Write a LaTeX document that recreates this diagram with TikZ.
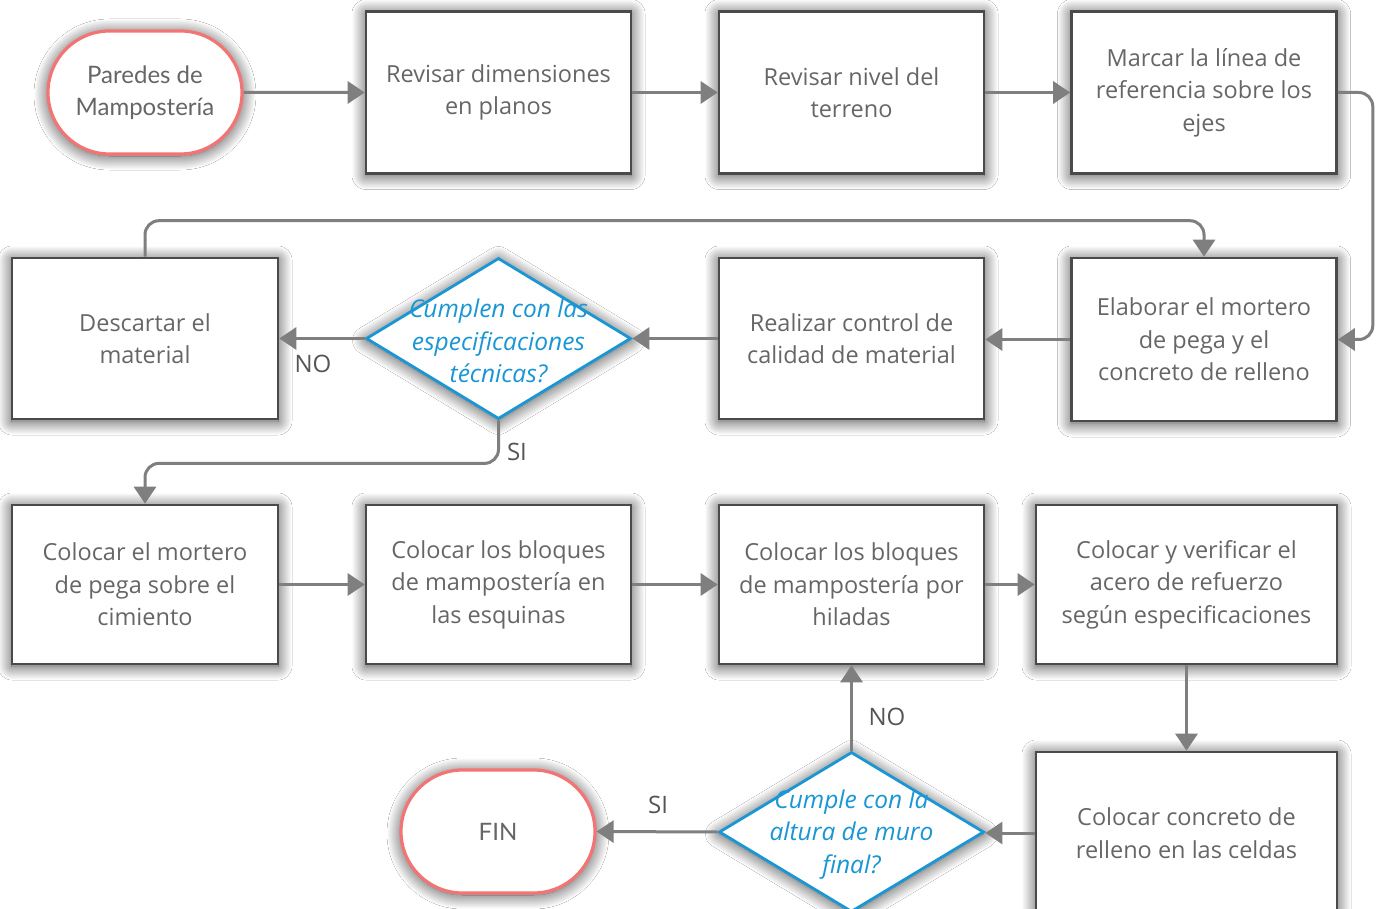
\documentclass[tikz,border=0pt]{standalone}
\usepackage{fontspec}
\setmainfont{Open Sans}
\newfontfamily\latofont{Lato}
\usetikzlibrary{arrows.meta,shapes.geometric,shapes.misc,shadows.blur}

\definecolor{boxline}{HTML}{4A4A4A}
\definecolor{txtgray}{HTML}{666666}
\definecolor{conngray}{HTML}{7F7F7F}
\definecolor{termred}{HTML}{F27474}
\definecolor{decblue}{HTML}{1A96D4}
\definecolor{labelgray}{HTML}{555555}

\tikzset{
  softshadow/.style={blur shadow={shadow xshift=0pt, shadow yshift=-2pt,
      shadow blur radius=14pt, shadow opacity=75, shadow blur steps=20}},
  procbox/.style={draw=boxline, line width=2.6pt, fill=white,
      minimum width=265pt, minimum height=162pt, inner sep=0pt,
      align=center, text=txtgray, font=\fontsize{23.5}{32.5}\selectfont, softshadow},
  terminal/.style={rounded rectangle, draw=termred, line width=3.2pt, fill=white,
      minimum width=194pt, minimum height=123pt, inner sep=0pt,
      align=center, text=txtgray, font=\latofont\fontsize{24}{32.5}\selectfont, softshadow},
  decision/.style={diamond, draw=decblue, line width=2.8pt, fill=white,
      minimum width=265pt, minimum height=161pt, inner sep=0pt, softshadow},
  dectext/.style={align=center, text=decblue, inner sep=0pt,
      font=\itshape\fontsize{24.5}{32.5}\selectfont},
  edgelabel/.style={text=labelgray, font=\fontsize{24}{28}\selectfont, inner sep=0pt},
  conn/.style={draw=conngray, line width=3pt, rounded corners=14pt,
      -{Triangle[length=17pt, width=22pt]}},
}

\begin{document}
\begin{tikzpicture}[x=1pt, y=-1pt]
  \fill[white] (0,0) rectangle (1379,909);
  \useasboundingbox (0,0) rectangle (1379,909);

  % first row
  \node[terminal] (start) at (145,92.5) {Paredes de\\Mampostería};
  \node[procbox] (dim)  at (498.5,92.5) {Revisar dimensiones\\en planos};
  \node[procbox] (niv)  at (851.5,92.5) {Revisar nivel del\\terreno};
  \node[procbox] (eje)  at (1204,92.5) {Marcar la línea de\\referencia sobre los\\ejes};

  % second row
  \node[procbox, minimum width=266pt, minimum height=161pt] (desc) at (145,338.5) {Descartar el\\material};
  \node[decision] (dq1) at (498.5,338.5) {};
  \node[dectext] (dq1t) at (498.5,341) {Cumplen con las\\especificaciones\\técnicas?};
  \node[procbox, minimum height=161pt] (ctrl) at (851.5,338.5) {Realizar control de\\calidad de material};
  \node[procbox, minimum height=163pt] (mort) at (1204,339.5) {Elaborar el mortero\\de pega y el\\concreto de relleno};

  % third row
  \node[procbox, minimum width=266pt, minimum height=159pt] (cim) at (145,584.5) {Colocar el mortero\\de pega sobre el\\cimiento};
  \node[procbox, minimum height=159pt] (esq) at (498.5,584.5) {Colocar los bloques\\de mampostería en\\las esquinas};
  \node[procbox, minimum height=159pt] (hil) at (851.5,584.5) {Colocar los bloques\\de mampostería por\\hiladas};
  \node[procbox, minimum width=301pt, minimum height=159pt] (acero) at (1186.5,584.5) {Colocar y verificar el\\acero de refuerzo\\según especificaciones};

  % fourth row
  \node[terminal] (fin) at (498,831.5) {FIN};
  \node[decision, minimum height=160pt] (dq2) at (851.5,832) {};
  \node[dectext] (dq2t) at (851.5,834.5) {Cumple con la\\altura de muro\\final?};
  \node[procbox, minimum width=301pt] (relleno) at (1186.5,833) {Colocar concreto de\\relleno en las celdas};

  % connectors
  \draw[conn] (start) -- (dim);
  \draw[conn] (dim) -- (niv);
  \draw[conn] (niv) -- (eje);
  \draw[conn] (eje.east) -- ++(35,0) |- (mort.east);
  \draw[conn] (mort.west) -- (mort.west -| ctrl.east);
  \draw[conn] (ctrl) -- (dq1);
  \draw[conn] (dq1) -- (desc);
  \draw[conn] (desc.north) -- ++(0,-36) -| (mort.north);
  \draw[conn] (dq1.south) -- ++(0,43) -| (cim.north);
  \draw[conn] (cim) -- (esq);
  \draw[conn] (esq) -- (hil);
  \draw[conn] (hil) -- (acero);
  \draw[conn] (acero) -- (relleno);
  \draw[conn] (relleno.west) -- (relleno.west -| dq2.east);
  \draw[conn] (dq2.north) -- (hil.south);
  \draw[conn] (dq2.west) -- (fin.east);

  % branch labels
  \node[edgelabel] (no1) at (313,364) {NO};
  \node[edgelabel] (si1) at (517,452) {SI};
  \node[edgelabel] (no2) at (887,717) {NO};
  \node[edgelabel] (si2) at (658,805) {SI};
\end{tikzpicture}
\end{document}
